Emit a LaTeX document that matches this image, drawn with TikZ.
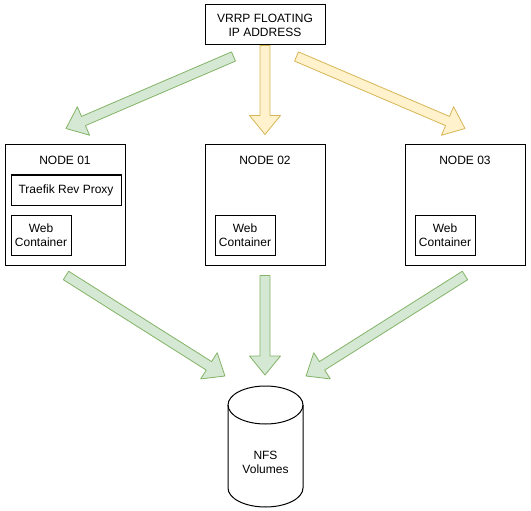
\documentclass[tikz,border=0pt]{standalone}
\usepackage{fontspec}
\setmainfont{Liberation Sans}
\usetikzlibrary{calc}
\definecolor{grnfill}{HTML}{D5E8D4}
\definecolor{grnline}{HTML}{82B366}
\definecolor{ylwfill}{HTML}{FFF2CC}
\definecolor{ylwline}{HTML}{D6B656}
\tikzset{
  box/.style = {draw, line width = 1pt, inner sep = 0pt, align = center},
  grnarrow/.style = {fill = grnfill, draw = grnline, line width = 0.8pt, line join = round},
  ylwarrow/.style = {fill = ylwfill, draw = ylwline, line width = 0.8pt, line join = round}
}
\newcommand{\fatarrow}[3]{%
  \draw[#1] let \p1 = ($(#3)-(#2)$), \n1 = {atan2(\y1,\x1)}, \n2 = {veclen(\x1,\y1)} in
    {[shift = {(#2)}, rotate = \n1] (0,5) -- (\n2-19,5) -- (\n2-19,15.5) -- (\n2,0)
      -- (\n2-19,-15.5) -- (\n2-19,-5) -- (0,-5) -- cycle};
}
\begin{document}
\begin{tikzpicture}[x = 1pt, y = -1pt, font = \fontsize{12}{14}\selectfont]
\useasboundingbox (0,0) rectangle (531,511);
\node[box, minimum width = 120, minimum height = 40] (vip) at (265,25) {VRRP FLOATING\\IP ADDRESS};
\node[box, minimum width = 120, minimum height = 120] (n1) at (65,205) {};
\node[box, minimum width = 120, minimum height = 120] (n2) at (265,205) {};
\node[box, minimum width = 120, minimum height = 120] (n3) at (465,205) {};
\node (t1) at (65,160) {NODE 01};
\node (t2) at (265,160) {NODE 02};
\node (t3) at (465,160) {NODE 03};
\node[box, minimum width = 110, minimum height = 30] (proxy) at (66,190) {Traefik Rev Proxy};
\node[box, minimum width = 60, minimum height = 40] (web1) at (41,235) {Web\\Container};
\node[box, minimum width = 60, minimum height = 40] (web2) at (245,235) {Web\\Container};
\node[box, minimum width = 60, minimum height = 40] (web3) at (445,235) {Web\\Container};
\draw[line width = 1pt] (228,405) -- (228,488) arc[start angle = 180, end angle = 360, x radius = 37.5pt, y radius = 19pt] -- (303,405);
\draw[line width = 1pt] (265.5,405) ellipse [x radius = 37.5pt, y radius = 19pt];
\node[align = center] (nfs) at (265.5,462) {NFS\\Volumes};
\coordinate (a1s) at ($(vip.south west)+(29,11)$);
\coordinate (a1e) at ($(n1.north)+(1,-16)$);
\coordinate (a2s) at (vip.south);
\coordinate (a2e) at ($(n2.north)+(0,-10)$);
\coordinate (a3s) at ($(vip.south east)+(-29,11)$);
\coordinate (a3e) at ($(n3.north)+(0,-16)$);
\coordinate (b1s) at ($(n1.south)+(1,10)$);
\coordinate (b1e) at (225,376);
\coordinate (b2s) at ($(n2.south)+(0,10)$);
\coordinate (b2e) at (265,375);
\coordinate (b3s) at ($(n3.south)+(0,10)$);
\coordinate (b3e) at (306,376);
\fatarrow{grnarrow}{a1s}{a1e}
\fatarrow{ylwarrow}{a2s}{a2e}
\fatarrow{ylwarrow}{a3s}{a3e}
\fatarrow{grnarrow}{b1s}{b1e}
\fatarrow{grnarrow}{b2s}{b2e}
\fatarrow{grnarrow}{b3s}{b3e}
\end{tikzpicture}
\end{document}
